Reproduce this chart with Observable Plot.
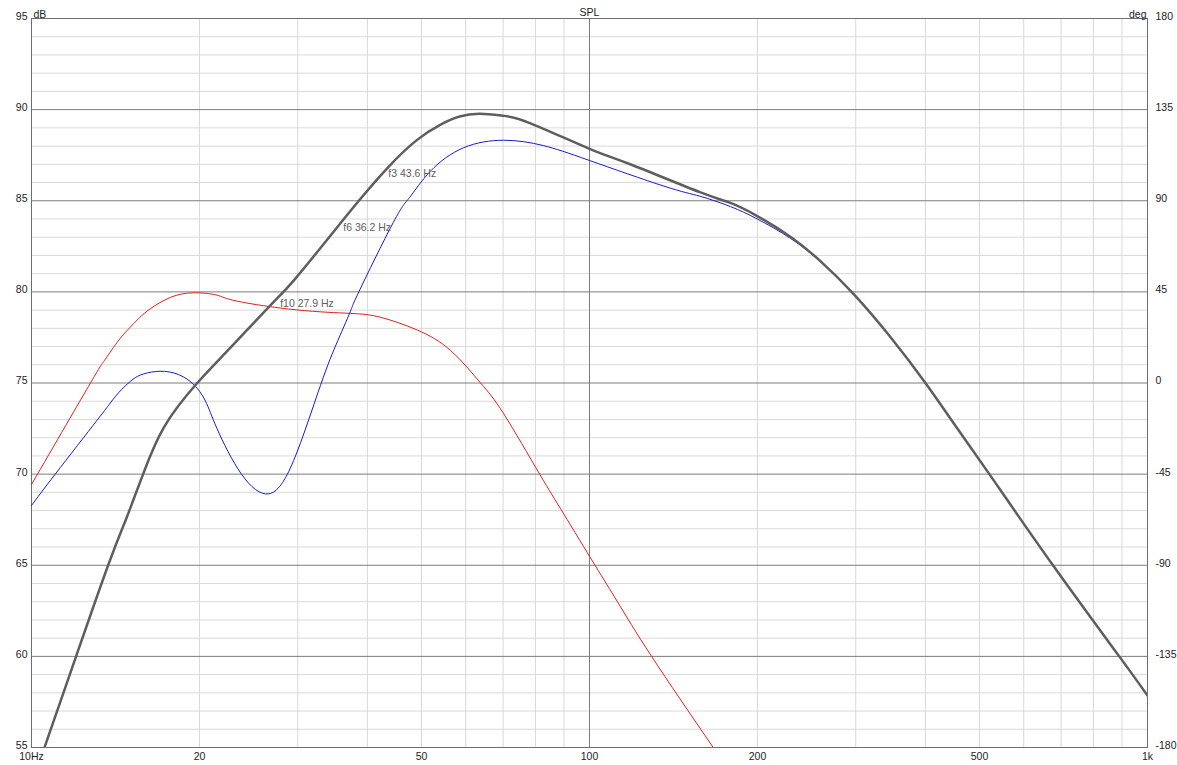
<!DOCTYPE html>
<html><head><meta charset="utf-8">
<script src="https://cdn.jsdelivr.net/npm/d3@7"></script>
<script src="https://cdn.jsdelivr.net/npm/@observablehq/plot@0.6"></script>
<style>
html,body{margin:0;padding:0;background:#fff;}
</style>
</head><body><div id="chart"></div>
<script>
// Gray (total SPL) curve
const grayFreq = [10.55, 12.02, 13.72, 14.74, 15.21, 15.85, 17.27, 19.82, 22.75, 26.8, 29.5, 34.35, 38.6, 43.6, 49.1, 54.2, 58.5, 63.6, 70.2, 78.4, 100, 118.6, 157.7, 178.9, 199.8, 229.4, 259.3, 297.5, 345, 400, 458, 520.7, 677, 890, 1000];
const grayDb   = [55.0, 60.0, 65.0, 67.46, 68.55, 70.0, 72.57, 75.0, 76.95, 79.26, 80.62, 83.09, 85.0, 86.85, 88.34, 89.19, 89.62, 89.77, 89.66, 89.25, 87.85, 86.99, 85.47, 84.88, 84.16, 83.01, 81.69, 79.88, 77.58, 75.0, 72.43, 70.0, 65.0, 60.0, 57.85];
// Blue curve
const blueFreq = [10, 11.03, 13.11, 13.74, 14.33, 15.05, 15.68, 16.69, 18.0, 19.4, 20.5, 21.5, 23.78, 26.63, 29.5, 32.95, 35.4, 37.4, 38.6, 44.5, 47.6, 51.9, 59.5, 70.2, 82.6, 100, 136, 157.7, 178.9, 199.8, 229.4, 259.3, 297.5, 345, 400, 458, 520.7, 677, 890, 1000];
const blueDb   = [68.28, 70.0, 72.96, 73.77, 74.47, 75.1, 75.44, 75.63, 75.55, 75.0, 74.01, 72.5, 70.0, 68.92, 70.75, 74.87, 77.33, 79.03, 80.0, 83.81, 85.18, 86.63, 87.91, 88.32, 88.03, 87.21, 85.8, 85.25, 84.68, 84.0, 82.93, 81.65, 79.88, 77.58, 75.0, 72.43, 70.0, 65.0, 60.0, 57.85];
// Red curve
const redFreq = [10, 12.76, 13.5, 14.24, 14.92, 15.6, 16.34, 17.75, 19.53, 21.5, 23.37, 29.9, 37.3, 42.3, 49.1, 56.4, 63.8, 70.2, 81.4, 89.9, 102.3, 112.2, 129.2, 166.6];
const redDb   = [69.43, 75.01, 76.22, 77.23, 77.96, 78.57, 79.08, 79.7, 79.95, 79.82, 79.49, 79.01, 78.82, 78.6, 77.91, 76.78, 75.0, 73.31, 70.0, 67.82, 65.0, 63.0, 60.0, 55.0];
// Annotations
const labelText = ["f3 43.6 Hz", "f6 36.2 Hz", "f10 27.9 Hz"];
const labelFreq = [43.6, 36.2, 27.9];
const labelDb   = [86.48, 83.55, 79.34];
// Ticks
const xTicks = [10, 20, 50, 100, 200, 500, 1000];
const xTickLabels = ["10Hz", "20", "50", "100", "200", "500", "1k"];
const dbTicks = [55, 60, 65, 70, 75, 80, 85, 90, 95];
const degTicks = [-180, -135, -90, -45, 0, 45, 90, 135, 180];
const minorDb = [56,57,58,59,61,62,63,64,66,67,68,69,71,72,73,74,76,77,78,79,81,82,83,84,86,87,88,89,91,92,93,94];
const minorFreq = [20,30,40,50,60,70,80,90,200,300,400,500,600,700,800,900];
const majorFreq = [100];

const toRows = (fs, ds) => fs.map((f, i) => ({f, db: ds[i]}));
const gray = toRows(grayFreq, grayDb);
const blue = toRows(blueFreq, blueDb);
const red = toRows(redFreq, redDb);
const labels = labelText.map((t, i) => ({t, f: labelFreq[i], db: labelDb[i]}));

const FONT = "'Liberation Sans', Arial, sans-serif";
const chart = Plot.plot({
  width: 1177,
  height: 765,
  marginLeft: 31,
  marginRight: 30,
  marginTop: 18,
  marginBottom: 18,
  style: {fontFamily: FONT, fontSize: "10.5px", color: "#222", background: "#fff"},
  x: {type: "log", domain: [10, 1000]},
  y: {domain: [55, 95]},
  marks: [
    Plot.ruleY(minorDb, {stroke: "#d9d9d9", strokeWidth: 1}),
    Plot.ruleX(minorFreq, {stroke: "#d9d9d9", strokeWidth: 1}),
    Plot.ruleY(dbTicks, {stroke: "#7c7c7c", strokeWidth: 1}),
    Plot.ruleX(majorFreq, {stroke: "#7c7c7c", strokeWidth: 1}),
    Plot.frame({stroke: "#6e6e6e"}),
    Plot.axisX({ticks: xTicks, tickFormat: d => xTickLabels[xTicks.indexOf(d)], tickSize: 0, tickPadding: 5, label: null, fill: "#222"}),
    Plot.axisY({ticks: dbTicks, anchor: "left", tickSize: 0, tickPadding: 4, dy: -2, label: null, fill: "#222"}),
    Plot.axisY({ticks: dbTicks, anchor: "right", tickFormat: d => String(degTicks[dbTicks.indexOf(d)]), tickSize: 0, tickPadding: 8, dy: -2, label: null, fill: "#222"}),
    Plot.text(["dB"], {frameAnchor: "top-left", text: d => d, dx: 2, dy: -8, textAnchor: "start", fill: "#222"}),
    Plot.text(["deg"], {frameAnchor: "top-right", text: d => d, dx: -1, dy: -8, textAnchor: "end", fill: "#222"}),
    Plot.text(["SPL"], {frameAnchor: "top", text: d => d, dy: -10, fill: "#222"}),
    Plot.line(red, {x: "f", y: "db", stroke: "#e41e1e", strokeWidth: 1, curve: "natural", clip: true}),
    Plot.line(blue, {x: "f", y: "db", stroke: "#1a1acc", strokeWidth: 1, curve: "natural", clip: true}),
    Plot.line(gray, {x: "f", y: "db", stroke: "#5e5e5e", strokeWidth: 2.5, curve: "natural", clip: true}),
    Plot.text(labels, {x: "f", y: "db", text: "t", textAnchor: "start", fill: "#606060", fontSize: 10.5})
  ]
});
document.getElementById("chart").appendChild(chart);
</script>
</body></html>
